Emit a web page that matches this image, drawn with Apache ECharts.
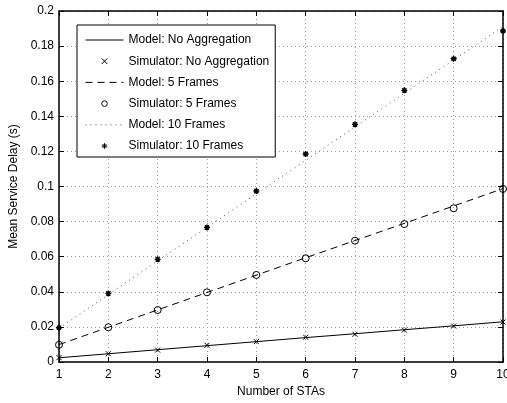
<!DOCTYPE html>
<html>
<head>
<meta charset="utf-8">
<script src="https://cdn.jsdelivr.net/npm/echarts@6/dist/echarts.min.js"></script>
<style>
html,body{margin:0;padding:0;background:#fff;}
#c{width:507px;height:403px;}
</style>
</head>
<body>
<div id="c"></div>
<script>
// ---- data ----
var stas = [1, 2, 3, 4, 5, 6, 7, 8, 9, 10];
var modelNoAgg = [0.0024, 0.0047, 0.0070, 0.0093, 0.0116, 0.0139, 0.0161, 0.0184, 0.0206, 0.0229];
var simNoAgg   = [0.0025, 0.0047, 0.0068, 0.0095, 0.0116, 0.0141, 0.0158, 0.0182, 0.0205, 0.0228];
var model5     = [0.0099, 0.0198, 0.0297, 0.0396, 0.0495, 0.0594, 0.0692, 0.0790, 0.0889, 0.0988];
var sim5       = [0.0098, 0.0198, 0.0296, 0.0397, 0.0496, 0.0591, 0.0691, 0.0786, 0.0876, 0.0986];
var model10    = [0.0192, 0.0384, 0.0576, 0.0767, 0.0958, 0.1149, 0.1340, 0.1531, 0.1721, 0.1912];
var sim10      = [0.0195, 0.0391, 0.0585, 0.0767, 0.0974, 0.1185, 0.1354, 0.1548, 0.1728, 0.1886];
var seriesNames = ['Model: No Aggregation', 'Simulator: No Aggregation', 'Model: 5 Frames',
                   'Simulator: 5 Frames', 'Model: 10 Frames', 'Simulator: 10 Frames'];
var xTitle = 'Number of STAs';
var yTitle = 'Mean Service Delay (s)';

function pairs(v) { return stas.map(function (x, i) { return [x, v[i]]; }); }

var FONT = 'Liberation Sans, Arial, Helvetica, sans-serif';
var crossPath = 'path://M0,0L10,10M10,0L0,10';
var starPath = 'path://M5,0L5,10M0,5L10,5M1.5,1.5L8.5,8.5M8.5,1.5L1.5,8.5';

var chart = echarts.init(document.getElementById('c'), null, {renderer: 'canvas'});

var gridLine = {show: true, lineStyle: {color: '#9a9a9a', type: [1, 3], width: 1}};
var axisLine = {show: true, onZero: false, lineStyle: {color: '#000', width: 1.5}};

var legendData = seriesNames.map(function (n, i) {
  if (i % 2 === 0) return {name: n, itemStyle: {opacity: 0}, lineStyle: {width: 1}};
  return {name: n, lineStyle: {opacity: 0}, itemStyle: {borderWidth: 1}};
});

var option = {
  animation: false,
  backgroundColor: '#fff',
  textStyle: {fontFamily: FONT},
  grid: {left: 59, right: 4, top: 11, bottom: 41, outerBoundsMode: 'none', containLabel: false},
  xAxis: [{
    type: 'value', min: 1, max: 10, interval: 1,
    name: xTitle, nameLocation: 'middle', nameGap: 23,
    nameTextStyle: {fontSize: 12, color: '#000', fontFamily: FONT},
    axisLine: axisLine,
    axisTick: {show: true, inside: true, length: 5, lineStyle: {color: '#000'}},
    axisLabel: {fontSize: 12, color: '#000', margin: 7, fontFamily: FONT, hideOverlap: false},
    splitLine: gridLine
  }, {
    type: 'value', min: 1, max: 10, interval: 1, position: 'top',
    axisLine: axisLine,
    axisTick: {show: true, inside: true, length: 5, lineStyle: {color: '#000'}},
    axisLabel: {show: false}, splitLine: {show: false}
  }],
  yAxis: [{
    type: 'value', min: 0, max: 0.2, interval: 0.02,
    name: yTitle, nameLocation: 'middle', nameGap: 37,
    nameTextStyle: {fontSize: 12, color: '#000', fontFamily: FONT},
    axisLine: axisLine,
    axisTick: {show: true, inside: true, length: 5, lineStyle: {color: '#000'}},
    axisLabel: {fontSize: 12, color: '#000', margin: 5, fontFamily: FONT},
    splitLine: gridLine
  }, {
    type: 'value', min: 0, max: 0.2, interval: 0.02, position: 'right',
    axisLine: axisLine,
    axisTick: {show: true, inside: true, length: 5, lineStyle: {color: '#000'}},
    axisLabel: {show: false}, splitLine: {show: false}
  }],
  legend: {
    orient: 'vertical', left: 77, top: 25,
    backgroundColor: '#fff', borderColor: '#000', borderWidth: 1,
    padding: [8, 6, 4, 8],
    itemWidth: 38, itemHeight: 7, itemGap: 7.2,
    textStyle: {fontSize: 12, color: '#000', fontFamily: FONT, lineHeight: 14},
    data: legendData
  },
  series: [
    {
      name: seriesNames[0], type: 'line', data: pairs(modelNoAgg),
      symbol: 'none', color: '#000',
      lineStyle: {color: '#000', width: 1, type: 'solid'}, z: 3
    },
    {
      name: seriesNames[1], type: 'line', data: pairs(simNoAgg),
      symbol: crossPath, symbolSize: 5, color: '#000', clip: false,
      itemStyle: {color: 'rgba(0,0,0,0)', borderColor: '#000', borderWidth: 1},
      lineStyle: {opacity: 0, width: 0}, z: 4
    },
    {
      name: seriesNames[2], type: 'line', data: pairs(model5),
      symbol: 'none', color: '#000',
      lineStyle: {color: '#000', width: 1, type: [7, 5]}, z: 3
    },
    {
      name: seriesNames[3], type: 'line', data: pairs(sim5),
      symbol: 'circle', symbolSize: 7, color: '#000', clip: false,
      itemStyle: {color: 'rgba(0,0,0,0)', borderColor: '#000', borderWidth: 1},
      lineStyle: {opacity: 0, width: 0}, z: 4
    },
    {
      name: seriesNames[4], type: 'line', data: pairs(model10),
      symbol: 'none', color: '#666',
      lineStyle: {color: '#555', width: 1, type: [1, 4]}, z: 3
    },
    {
      name: seriesNames[5], type: 'line', data: pairs(sim10),
      symbol: starPath, symbolSize: 6, color: '#000', clip: false,
      itemStyle: {color: 'rgba(0,0,0,0)', borderColor: '#000', borderWidth: 1.4},
      lineStyle: {opacity: 0, width: 0}, z: 4
    }
  ]
};
chart.setOption(option);
</script>
</body>
</html>
